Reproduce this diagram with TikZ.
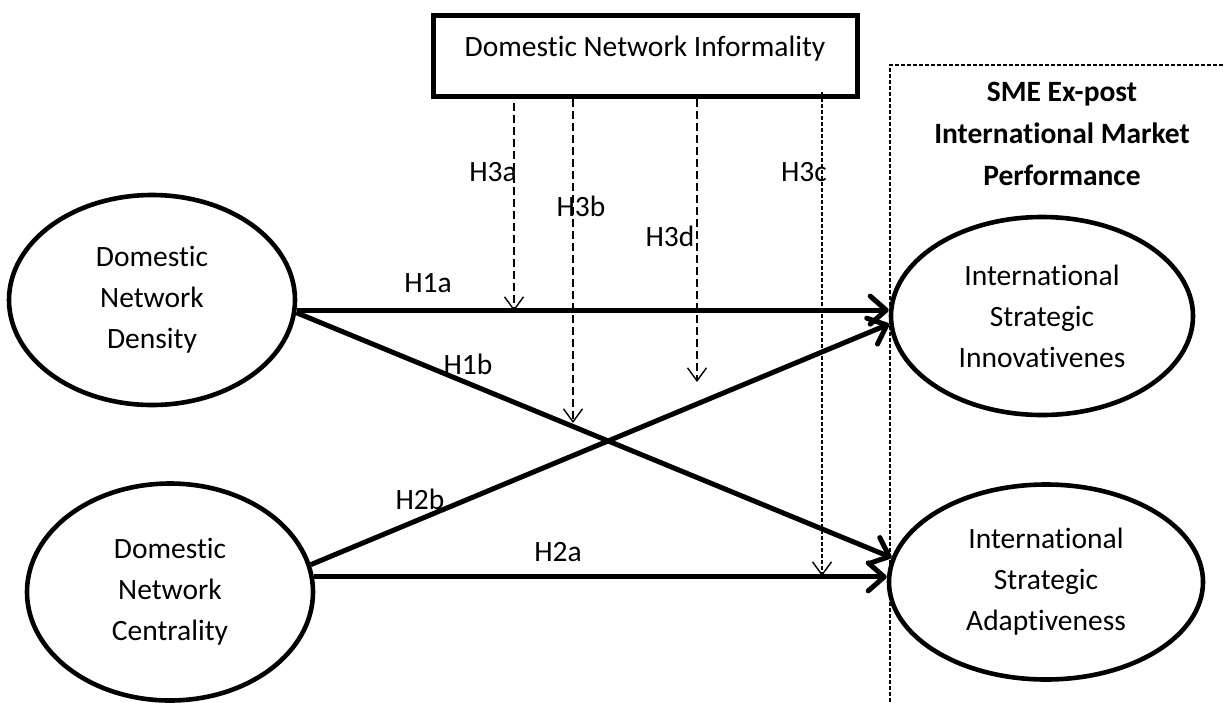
\documentclass[tikz,border=0pt]{standalone}
\usepackage{fontspec}
\setmainfont{Carlito}[Ligatures=NoCommon]
\usetikzlibrary{arrows.meta,shapes.geometric}
\begin{document}
\begin{tikzpicture}[x=1pt,y=-1pt,
  every node/.style={font=\fontsize{29.5}{41}\selectfont},
  latent/.style={draw, ellipse, line width=4.6pt, inner sep=0pt, align=center},
  modbox/.style={draw, rectangle, line width=5pt, minimum width=424pt, minimum height=81pt, inner sep=0pt},
  mainarrow/.style={line width=5pt, -{Straight Barb[length=16pt,width=28pt,round]}},
  modarrow/.style={line width=1.4pt, dash pattern=on 8pt off 4pt, -{Straight Barb[length=13pt,width=19pt]}},
  finearrow/.style={line width=1.4pt, dash pattern=on 4pt off 2pt, -{Straight Barb[length=13pt,width=19pt]}},
  hlabel/.style={inner sep=0pt},
  boundary/.style={line width=1.3pt, dash pattern=on 4pt off 2pt}
]
\useasboundingbox (0,0) rectangle (1225,702);

% moderator box
\node[modbox, text height=20pt, text depth=20pt] (inf) at (645,56) {Domestic Network Informality};

% latent constructs
\node[latent, minimum width=286pt, minimum height=210pt] (dens) at (152,300) {Domestic\\Network\\Density};
\node[latent, minimum width=286pt, minimum height=217pt] (cent) at (170,592) {Domestic\\Network\\Centrality};
\node[latent, minimum width=302pt, minimum height=198pt] (innov) at (1042,316) {International\\Strategic\\Innovativenes};
\node[latent, minimum width=314pt, minimum height=195pt] (adapt) at (1046,582) {International\\Strategic\\Adaptiveness};

% outcome region
\draw[boundary] (890,702) -- (890,65) -- (1225,65);
\node[font=\bfseries\fontsize{29.5}{42}\selectfont, align=center] (title) at (1062,134) {SME Ex-post\\International Market\\Performance};

% main paths
\draw[mainarrow] (dens.-4.4) -- (dens.-4.4 -| innov.west);
\draw[mainarrow] (dens.-5.2) -- (adapt.171.3);
\draw[mainarrow] (cent.11.7) -- (innov.183.4);
\draw[mainarrow] (cent.6) -- (cent.6 -| adapt.west);

% moderation arrows
\coordinate (t3a) at (514,311);
\coordinate (t3b) at (573,423);
\coordinate (t3d) at (697,382);
\coordinate (t3c) at (822,576);
\draw[modarrow, shorten <=4pt] (inf.south -| t3a) -- (t3a);
\draw[modarrow] (inf.south -| t3b) -- (t3b);
\draw[modarrow] (inf.south -| t3d) -- (t3d);
\draw[finearrow, shorten <=-7pt] (inf.south -| t3c) -- (t3c);

% labels
\node[hlabel] (l3a) at (493,172) {H3a};
\node[hlabel] (l3b) at (581,206) {H3b};
\node[hlabel] (l3d) at (670,236) {H3d};
\node[hlabel] (l3c) at (804,172) {H3c};
\node[hlabel] (l1a) at (428,283) {H1a};
\node[hlabel] (l1b) at (468,364) {H1b};
\node[hlabel] (l2b) at (420,499) {H2b};
\node[hlabel] (l2a) at (558,552) {H2a};
\end{tikzpicture}
\end{document}
